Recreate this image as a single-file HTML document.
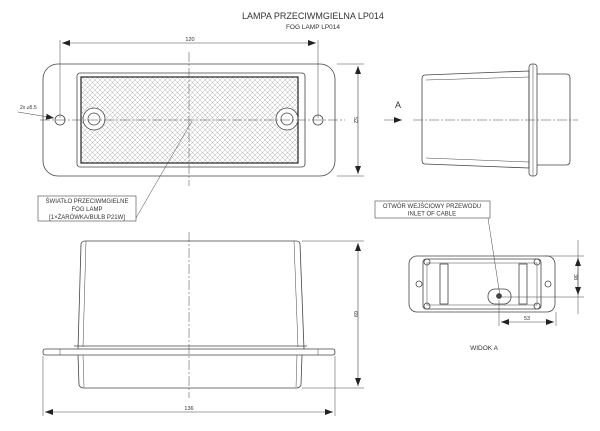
<!DOCTYPE html>
<html><head><meta charset="utf-8"><style>
html,body{margin:0;padding:0;background:#fff;}
svg{display:block;}
text{font-family:"Liberation Sans",sans-serif;fill:#333;}
</style></head><body>
<svg width="600" height="431" viewBox="0 0 600 431" xmlns="http://www.w3.org/2000/svg">
<defs>
<pattern id="h" width="5" height="5" patternUnits="userSpaceOnUse">
<path d="M0 0L5 5M5 0L0 5" stroke="#b5b5b5" stroke-width="0.5"/>
</pattern>
<marker id="ar" markerWidth="8" markerHeight="6" refX="8" refY="3" orient="auto" markerUnits="userSpaceOnUse"><path d="M0 0L8 3L0 6z" fill="#222"/></marker>
<marker id="al" markerWidth="8" markerHeight="6" refX="0" refY="3" orient="auto" markerUnits="userSpaceOnUse"><path d="M8 0L0 3L8 6z" fill="#222"/></marker>
</defs>
<text x="313" y="19" font-size="9" text-anchor="middle">LAMPA PRZECIWMGIELNA LP014</text>
<text x="313" y="29" font-size="6.5" text-anchor="middle">FOG LAMP LP014</text>

<!-- TOP VIEW -->
<g fill="none" stroke="#444" stroke-width="0.8">
<rect x="43" y="64" width="292" height="112" rx="15"/>
<rect x="77" y="73" width="228" height="94" rx="3"/>
<rect x="81" y="77" width="217" height="86" fill="url(#h)" stroke="#222" stroke-width="1.2"/>
<circle cx="60" cy="120" r="5"/>
<circle cx="318" cy="120" r="5"/>
<circle cx="94" cy="119" r="11" fill="#fff"/><circle cx="94" cy="119" r="6"/>
<circle cx="287" cy="119" r="11" fill="#fff"/><circle cx="287" cy="119" r="6"/>
<path d="M189 52V186M40 120H345" stroke-dasharray="10 2 2 2" stroke-width="0.5"/>
<path d="M60 40V118M318 40V118M337 64H364M337 176H364" stroke-width="0.5"/>
<path d="M62 43H316" marker-start="url(#al)" marker-end="url(#ar)" stroke-width="0.6"/>
<path d="M358 66V174" marker-start="url(#al)" marker-end="url(#ar)" stroke-width="0.6"/>
<path d="M18 112L54 118" marker-end="url(#ar)" stroke-width="0.5"/>
<path d="M192 121L136 218" stroke-width="0.5"/>
<rect x="38" y="196" width="98" height="25" stroke-width="0.6"/>
</g>
<text x="190" y="41" font-size="5.5" text-anchor="middle">120</text>
<text x="354" y="120" font-size="5.5" text-anchor="middle" transform="rotate(90 354 120)">52</text>
<text x="20" y="109" font-size="5">2x ⌀5.5</text>
<text x="87" y="203" font-size="6" text-anchor="middle">ŚWIATŁO PRZECIWMGIELNE</text>
<text x="87" y="211" font-size="6" text-anchor="middle">FOG LAMP</text>
<text x="87" y="219" font-size="6" text-anchor="middle">[1×ŻARÓWKA/BULB P21W]</text>

<!-- SIDE VIEW -->
<g fill="none" stroke="#444" stroke-width="0.8">
<path d="M425 75L529 71V168L425 164Q422 164 422 160V79Q422 75 425 75Z"/>
<path d="M426 80L529 77M426 158L529 162" stroke-width="0.5"/>
<rect x="529" y="64" width="8" height="112" rx="3"/>
<path d="M533 64V176" stroke-width="0.5"/>
<path d="M537 74H566Q570 74 570 78V161Q570 165 566 165H537"/>
<path d="M413 120H578" stroke-dasharray="10 2 2 2" stroke-width="0.5"/>
<path d="M384 120H402" marker-end="url(#ar)" stroke-width="0.6"/>
</g>
<text x="398" y="108" font-size="9" text-anchor="middle">A</text>

<!-- WIDOK A -->
<g fill="none" stroke="#444" stroke-width="0.8">
<rect x="375" y="201" width="115" height="17" stroke-width="0.6"/>
<path d="M488 218L500 296" stroke-width="0.5"/>
<rect x="409" y="256" width="146" height="56" rx="8"/>
<rect x="423" y="259" width="118" height="50" rx="3"/>
<rect x="427" y="263" width="110" height="42" stroke-width="0.5"/>
<circle cx="419" cy="284" r="3"/><circle cx="548" cy="284" r="3"/>
<rect x="440" y="264" width="8" height="40"/><rect x="519" y="264" width="8" height="40"/>
<circle cx="427" cy="262" r="3"/><circle cx="537" cy="262" r="3"/><circle cx="427" cy="306" r="3"/><circle cx="537" cy="306" r="3"/>
<rect x="488" y="289" width="23" height="15" rx="7"/>
<circle cx="499" cy="296" r="2.5" fill="#444"/>
<path d="M500 297H584M545 256H584M578 240V314M499 300V326M556 312V326" stroke-width="0.5"/>
<path d="M578 258V295" marker-start="url(#al)" marker-end="url(#ar)" stroke-width="0.6"/>
<path d="M501 322H554" marker-start="url(#al)" marker-end="url(#ar)" stroke-width="0.6"/>
</g>
<text x="432" y="208" font-size="6" text-anchor="middle">OTWÓR WEJŚCIOWY PRZEWODU</text>
<text x="432" y="215.5" font-size="6" text-anchor="middle">INLET OF CABLE</text>
<text x="574" y="277" font-size="5.5" text-anchor="middle" transform="rotate(90 574 277)">38</text>
<text x="527" y="320" font-size="5.5" text-anchor="middle">53</text>
<text x="484" y="350" font-size="6.5" text-anchor="middle">WIDOK A</text>

<!-- BOTTOM VIEW -->
<g fill="none" stroke="#444" stroke-width="0.8">
<path d="M78 349L81 244Q82 241 85 241H296Q300 241 300 244L304 349"/>
<path d="M86 241L83 347M294 241L298 347" stroke-width="0.5"/>
<path d="M74 346H307"/>
<path d="M45 349H333Q335 349 335 352Q335 355 333 355H45Q43 355 43 352Q43 349 45 349Z"/>
<path d="M60 349V355M318 349V355" stroke-width="0.5"/>
<path d="M78 355L79 385Q80 388 84 388H296Q300 388 301 385L302 355"/>
<path d="M83 355L84 387M297 355L296 387" stroke-width="0.5"/>
<path d="M189 232V398" stroke-dasharray="10 2 2 2" stroke-width="0.5"/>
<path d="M302 241H364M302 388H364M43 356V416M335 356V416" stroke-width="0.5"/>
<path d="M358 243V386" marker-start="url(#al)" marker-end="url(#ar)" stroke-width="0.6"/>
<path d="M45 412H333" marker-start="url(#al)" marker-end="url(#ar)" stroke-width="0.6"/>
</g>
<text x="354" y="314" font-size="5.5" text-anchor="middle" transform="rotate(90 354 314)">69</text>
<text x="189" y="410" font-size="5.5" text-anchor="middle">136</text>
</svg>
</body></html>
